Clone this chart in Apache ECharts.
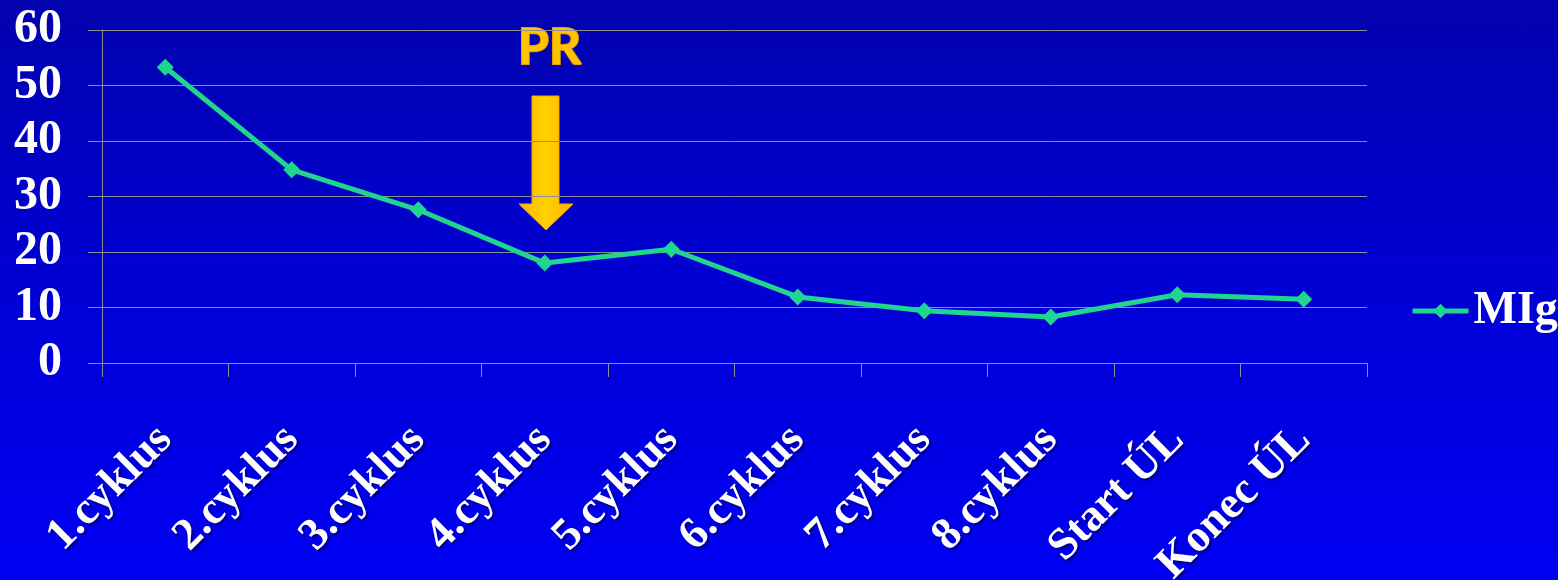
<!DOCTYPE html>
<html>
<head>
<meta charset="utf-8">
<script src="https://cdn.jsdelivr.net/npm/echarts@6/dist/echarts.min.js"></script>
<style>
  html, body { margin: 0; padding: 0; }
  #chart {
    width: 1558px;
    height: 580px;
    background: linear-gradient(to bottom, #0202ae 0%, #0000d8 55%, #0000f4 100%);
  }
</style>
</head>
<body>
<div id="chart"></div>
<script>
const categories = ['1.cyklus', '2.cyklus', '3.cyklus', '4.cyklus', '5.cyklus', '6.cyklus', '7.cyklus', '8.cyklus', 'Start ÚL', 'Konec ÚL']
const migValues = [53.3, 34.8, 27.6, 18.0, 20.5, 11.9, 9.4, 8.3, 12.3, 11.5]
const yTicks = { min: 0, max: 60, interval: 10 }

const chart = echarts.init(document.getElementById('chart'))
const gridColor = '#8e8c96'
const serif = '"Liberation Serif", "DejaVu Serif", serif'

const option = {
  backgroundColor: 'transparent',
  animation: false,
  grid: { left: 102, right: 191, top: 30, bottom: 217, containLabel: false, outerBoundsMode: 'none' },
  legend: {
    data: ['MIg'],
    left: 1405,
    top: 283,
    itemWidth: 56,
    itemHeight: 18,
    itemGap: 6,
    lineStyle: { width: 5 },
    textStyle: {
      color: '#ffffff',
      fontFamily: serif,
      fontWeight: 'bold',
      fontSize: 46
    }
  },
  xAxis: {
    type: 'category',
    data: categories,
    boundaryGap: true,
    axisLine: { lineStyle: { color: gridColor, width: 1 } },
    axisTick: { show: true, length: 14, alignWithLabel: false, lineStyle: { color: gridColor } },
    axisLabel: {
      interval: 0,
      rotate: 45,
      margin: 70,
      color: '#ffffff',
      fontFamily: serif,
      fontWeight: 'bold',
      fontSize: 45,
      textShadowColor: 'rgba(0,0,40,0.55)',
      textShadowOffsetX: 2,
      textShadowOffsetY: 2,
      textShadowBlur: 2
    }
  },
  yAxis: {
    type: 'value',
    min: yTicks.min,
    max: yTicks.max,
    interval: yTicks.interval,
    axisLine: { show: true, lineStyle: { color: gridColor, width: 1 } },
    axisTick: { show: true, length: 14, lineStyle: { color: gridColor } },
    splitLine: { show: true, lineStyle: { color: gridColor, width: 1 } },
    axisLabel: {
      margin: 40,
      color: '#ffffff',
      fontFamily: serif,
      fontWeight: 'bold',
      fontSize: 48
    }
  },
  series: [
    {
      name: 'MIg',
      type: 'line',
      data: migValues,
      symbol: 'diamond',
      symbolSize: 17,
      lineStyle: { color: '#20d68e', width: 5 },
      itemStyle: { color: '#20d68e' }
    }
  ],
  graphic: [
    {
      type: 'text',
      left: 517,
      top: 22,
      style: {
        text: 'PR',
        fill: '#ffc400',
        stroke: '#e89a00',
        lineWidth: 2,
        font: 'bold 50px Lato, "DejaVu Sans", sans-serif'
      }
    },
    {
      type: 'polygon',
      shape: {
        points: [[532, 96], [559, 96], [559, 204], [573, 204], [546, 230], [519, 204], [532, 204]]
      },
      style: {
        fill: {
          type: 'linear', x: 0, y: 0, x2: 1, y2: 0,
          colorStops: [
            { offset: 0, color: '#ffb800' },
            { offset: 0.5, color: '#ffd000' },
            { offset: 1, color: '#ffb400' }
          ]
        },
        stroke: '#f0a800',
        lineWidth: 1
      }
    }
  ]
}

chart.setOption(option)
</script>
</body>
</html>
